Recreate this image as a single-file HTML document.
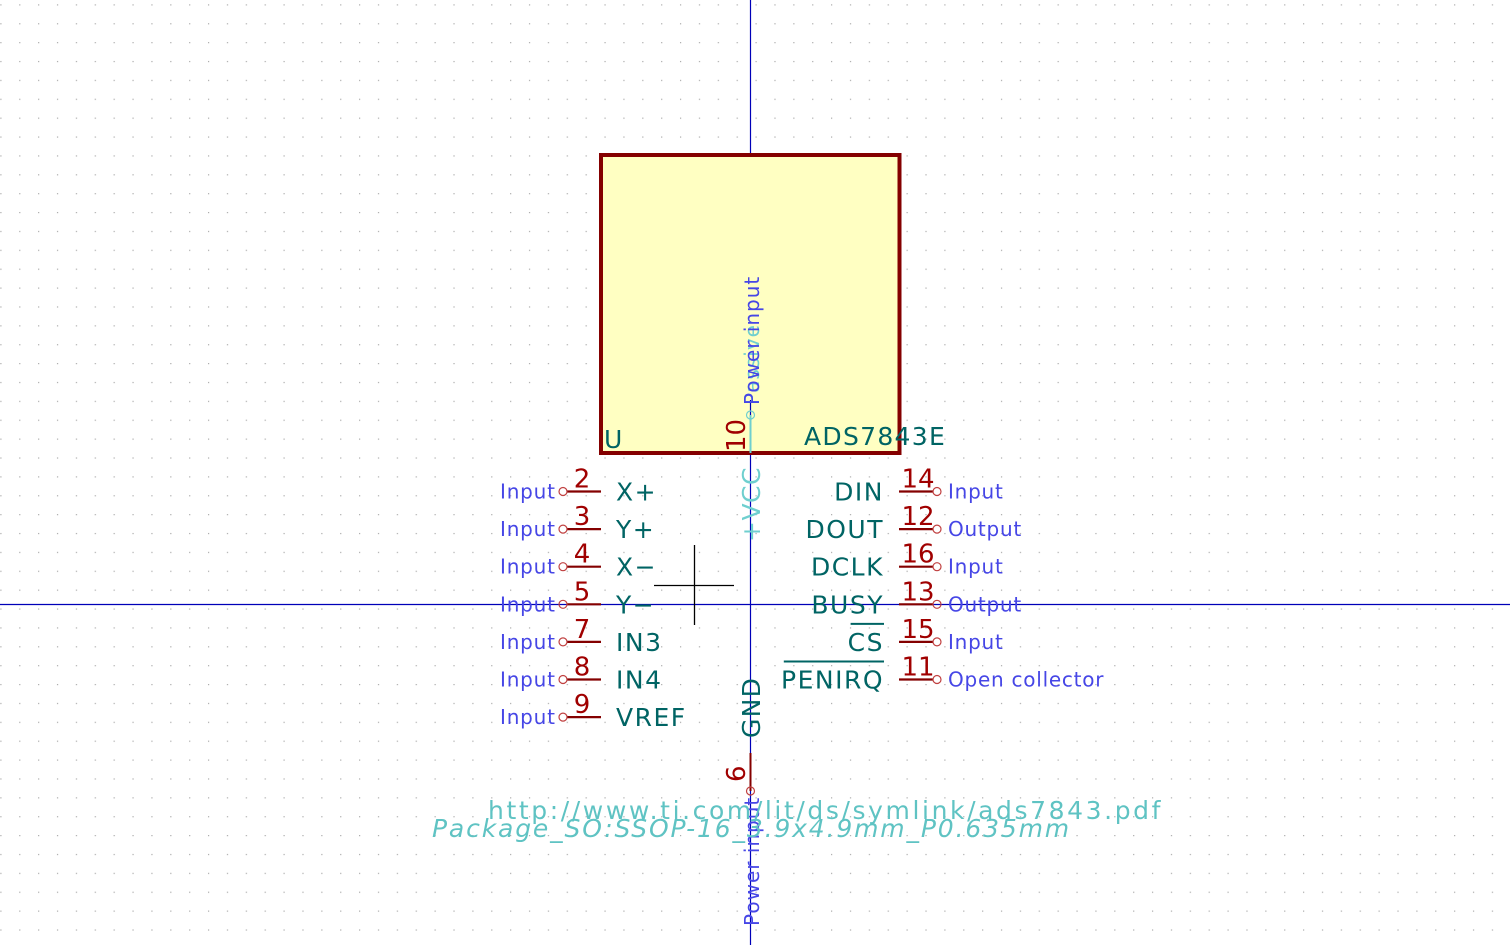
<!DOCTYPE html>
<html><head><meta charset="utf-8"><style>
html,body{margin:0;padding:0;background:#fff;}
svg{display:block;}
text{font-family:"DejaVu Sans","Liberation Sans",sans-serif;}
</style></head><body>
<svg width="1510" height="945" viewBox="0 0 1510 945">
<defs>
<pattern id="grid" x="0.3" y="4.3" width="18.88" height="18.88" patternUnits="userSpaceOnUse">
<rect x="0" y="0" width="1.2" height="1.2" fill="#aaaaaa"/>
</pattern>
</defs>
<rect width="1510" height="945" fill="url(#grid)"/>
<line x1="750.5" y1="0" x2="750.5" y2="945" stroke="#0000b8" stroke-width="1.2"/>
<line x1="0" y1="604.5" x2="1510" y2="604.5" stroke="#0000b8" stroke-width="1.2"/>
<rect x="601" y="155" width="298.5" height="298" fill="#ffffc2" stroke="#840000" stroke-width="4"/>
<line x1="750.5" y1="400" x2="750.5" y2="453" stroke="#0000b8" stroke-width="1.2"/>
<g stroke="#000" stroke-width="1.3">
<line x1="694.5" y1="545" x2="694.5" y2="625"/><line x1="654" y1="585.5" x2="734" y2="585.5"/>
</g>
<text x="604" y="448" font-size="25" fill="#006464">U</text>
<text x="804" y="445" font-size="25" fill="#006464" letter-spacing="1.3">ADS7843E</text>
<g id="pins"></g>
<line x1="750.5" y1="415" x2="750.5" y2="453" stroke="#6fcfcf" stroke-width="2"/>
<circle cx="750.5" cy="415" r="4" fill="none" stroke="#6fcfcf" stroke-width="1.2"/>
<text transform="translate(745,452) rotate(-90)" font-size="26" fill="#a00000">10</text>
<text transform="translate(760,542) rotate(-90)" font-size="25" fill="#6fcfcf" letter-spacing="0.5">+VCC</text>
<text transform="translate(759,405) rotate(-90)" font-size="20" fill="#6fcfcf" letter-spacing="1">Passive</text>
<text transform="translate(759,405) rotate(-90)" font-size="20" fill="#4646e6" letter-spacing="1">Power input</text>
<line x1="750.5" y1="753" x2="750.5" y2="791" stroke="#840000" stroke-width="2"/>
<circle cx="750.5" cy="791" r="4" fill="none" stroke="#c04040" stroke-width="1.2"/>
<text transform="translate(745,782) rotate(-90)" font-size="26" fill="#a00000">6</text>
<text transform="translate(760,738) rotate(-90)" font-size="25" fill="#006464" letter-spacing="1.3">GND</text>
<text transform="translate(759,926) rotate(-90)" font-size="20" fill="#4646e6" letter-spacing="1">Power input</text>
<text x="488" y="819" font-size="25" fill="#5fc3c3" letter-spacing="2.6">http://www.ti.com/lit/ds/symlink/ads7843.pdf</text>
<text x="432" y="837" font-size="25" fill="#5fc3c3" font-style="italic" letter-spacing="1.85">Package_SO:SSOP-16_3.9x4.9mm_P0.635mm</text>
</svg>
<script>
const leftNums=["2","3","4","5","7","8","9"];
const leftNames=["X+","Y+","X−","Y−","IN3","IN4","VREF"];
const rightNums=["14","12","16","13","15","11"];
const rightNames=["DIN","DOUT","DCLK","BUSY","CS","PENIRQ"];
const rightTypes=["Input","Output","Input","Output","Input","Open collector"];
const g=document.getElementById('pins');
const NS="http://www.w3.org/2000/svg";
function mk(tag,attrs,txt){const e=document.createElementNS(NS,tag);for(const k in attrs)e.setAttribute(k,attrs[k]);if(txt!==undefined)e.textContent=txt;g.appendChild(e);return e;}
const y0=491.5,dy=37.6;
leftNums.forEach((n,i)=>{const y=y0+i*dy;
 let e=mk('line',{x1:567,y1:y,x2:601,y2:y,stroke:'#840000','stroke-width':2.2});
 
 
 e=mk('circle',{cx:563,cy:y,r:4,fill:'none',stroke:'#c04040','stroke-width':1.2});
 
 
 e=mk('text',{x:582,y:y-4,'font-size':26,fill:'#a00000','text-anchor':'middle'},n);
 
 
 e=mk('text',{x:616,y:y+9,'font-size':25,fill:'#006464','letter-spacing':1.5},leftNames[i]);
 
 
 e=mk('text',{x:500,y:y+7,'font-size':20,fill:'#4646e6','letter-spacing':0.8},'Input');
 
 
});
rightNums.forEach((n,i)=>{const y=y0+i*dy;
 let e=mk('line',{x1:899,y1:y,x2:933,y2:y,stroke:'#840000','stroke-width':2.2});
 
 
 e=mk('circle',{cx:937,cy:y,r:4,fill:'none',stroke:'#c04040','stroke-width':1.2});
 
 
 e=mk('text',{x:918,y:y-4,'font-size':26,fill:'#a00000','text-anchor':'middle'},n);
 
 
 const t=mk('text',{x:884,y:y+9,'font-size':25,fill:'#006464','letter-spacing':1.5,'text-anchor':'end'},rightNames[i]);
 
 
 if(rightNames[i]==='CS'||rightNames[i]==='PENIRQ'){const w=rightNames[i].length*16.7;
  e=mk('line',{x1:884-w,y1:y-18,x2:884,y2:y-18,stroke:'#006464','stroke-width':2});
  
  }
 e=mk('text',{x:948,y:y+7,'font-size':20,fill:'#4646e6','letter-spacing':0.75},rightTypes[i]);
 
 
});
</script>
</body></html>
